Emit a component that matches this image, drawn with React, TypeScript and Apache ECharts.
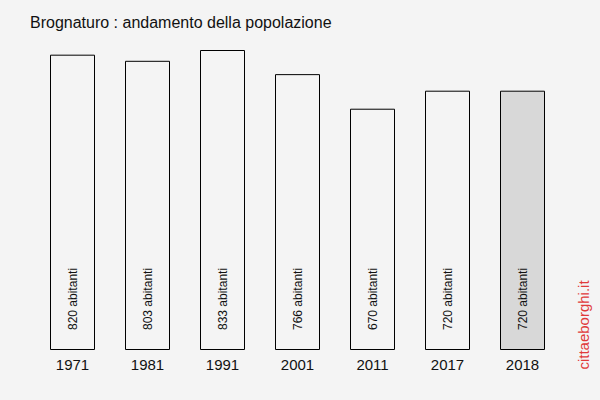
import React, { useEffect, useRef } from "react";
import * as echarts from "echarts";

const title = "Brognaturo : andamento della popolazione";
const years = ["1971", "1981", "1991", "2001", "2011", "2017", "2018"];
const population = [820, 803, 833, 766, 670, 720, 720];
const watermark = "cittaeborghi.it";

export default function App() {
  const ref = useRef<HTMLDivElement>(null);
  useEffect(() => {
    if (!ref.current) return;
    const chart = echarts.init(ref.current, null, { renderer: "svg" });
    chart.setOption({
      animation: false,
      backgroundColor: "#f4f4f4",
      textStyle: { fontFamily: "Liberation Sans, Arial, sans-serif" },
      title: {
        text: title,
        left: 25,
        top: 9,
        textStyle: { fontSize: 16, fontWeight: "normal", color: "#111", fontFamily: "Liberation Sans, Arial, sans-serif" },
      },
      grid: { left: 35, right: 40, top: 50, bottom: 50 },
      xAxis: {
        type: "category",
        data: years,
        axisLine: { show: false },
        axisTick: { show: false },
        axisLabel: { fontSize: 15, color: "#111", margin: 7, fontFamily: "Liberation Sans, Arial, sans-serif" },
      },
      yAxis: {
        type: "value",
        min: 0,
        max: "dataMax",
        show: false,
        splitLine: { show: false },
      },
      series: [
        {
          type: "bar",
          barWidth: 45,
          data: population.map((v, i) => ({
            value: v,
            itemStyle: {
              color: i === population.length - 1 ? "#d8d8d8" : "#f4f4f4",
              borderColor: "#000",
              borderWidth: 1,
            },
          })),
          label: {
            show: true,
            position: "insideBottom",
            rotate: 90,
            align: "left",
            verticalAlign: "middle",
            distance: 20,
            fontSize: 12,
            color: "#111",
            fontFamily: "Liberation Sans, Arial, sans-serif",
            formatter: (p: any) => `${p.value} abitanti`,
          },
        },
      ],
      graphic: [
        {
          type: "text",
          x: 583,
          y: 325,
          rotation: Math.PI / 2,
          style: {
            text: watermark,
            fill: "#e03a3a",
            fontSize: 15,
            fontFamily: "Liberation Sans, Arial, sans-serif",
            textAlign: "center",
            textVerticalAlign: "middle",
          },
        },
      ],
    });
    return () => chart.dispose();
  }, []);
  return <div ref={ref} style={{ width: 600, height: 400, position: "absolute", left: 0, top: 0 }} />;
}
